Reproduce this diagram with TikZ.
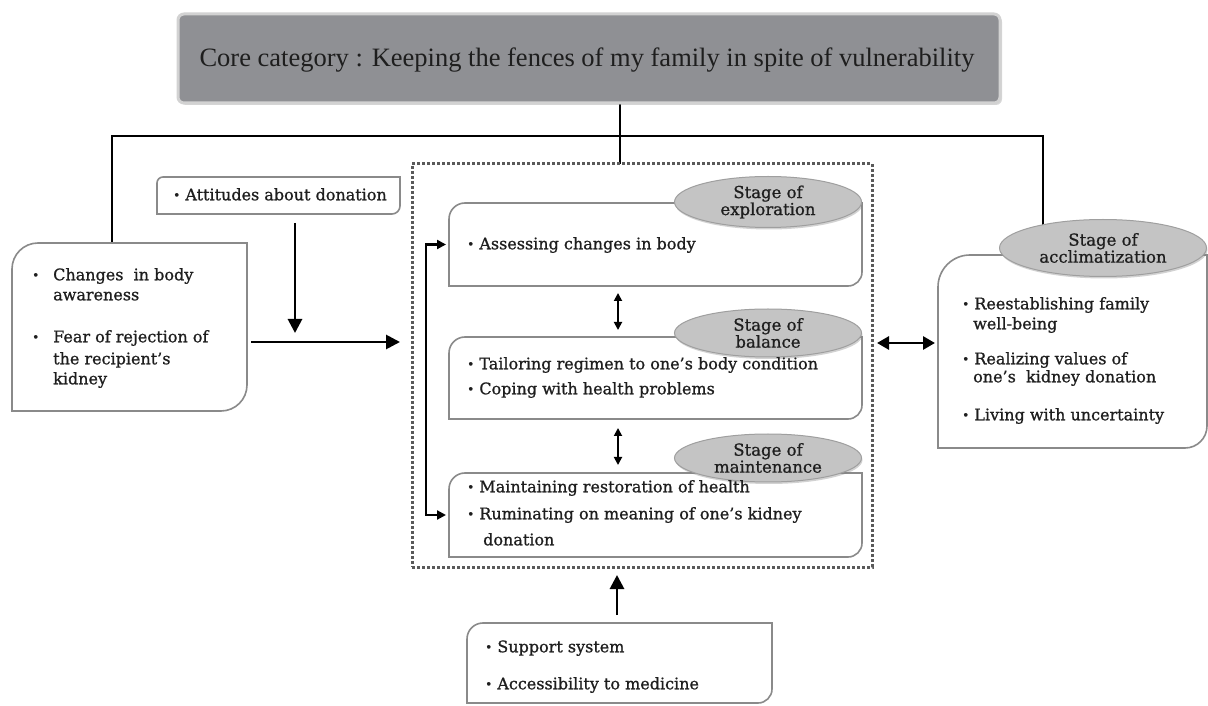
\documentclass[tikz,border=0pt]{standalone}
\usepackage{fontspec}
\setmainfont{Liberation Serif}
\newfontfamily\bodyfont[FakeBold=0.9]{DejaVu Serif}
\usetikzlibrary{arrows.meta,backgrounds,shadows,shapes.geometric,calc}
\definecolor{coregray}{HTML}{8F9094}
\definecolor{framegray}{HTML}{D2D2D2}
\definecolor{boxgray}{HTML}{8A8A8A}
\definecolor{ellfill}{HTML}{C4C4C4}
\definecolor{txt}{HTML}{1E1E1E}
\definecolor{dotgray}{HTML}{5A5A5A}
\newcommand\bul{\raisebox{1pt}{\fontsize{12}{12}\selectfont •}}
\newcommand\diagoutline[3]{%
  \draw[outline] ([yshift=-#2]#1.north west) arc[start angle=180,end angle=90,radius=#2]
    -- (#1.north east) -- ([yshift=#3]#1.south east) arc[start angle=0,end angle=-90,radius=#3]
    -- (#1.south west) -- cycle;}
\begin{document}
\begin{tikzpicture}[x=1pt,y=1pt,
  area/.style={rectangle,inner sep=0pt,outer sep=0pt},
  outline/.style={draw=boxgray,line width=1.6pt},
  ell/.style={ellipse,fill=ellfill,draw=gray!75,line width=1pt,inner sep=0pt,align=center,
    font=\bodyfont\fontsize{16.5}{17}\selectfont,text=txt,
    drop shadow={opacity=0.35,shadow xshift=1pt,shadow yshift=-2pt}},
  lbl/.style={anchor=mid west,inner sep=0pt,text=txt,font=\bodyfont\fontsize{16}{18}\selectfont},
  conn/.style={line width=2.4pt,draw=black},
  thickarr/.style={line width=2.8pt,-{Triangle[length=14pt,width=14pt]}},
  dblarr/.style={line width=1.8pt,{Triangle[length=8pt,width=8pt]}-{Triangle[length=8pt,width=8pt]}},
  bigdbl/.style={line width=2.8pt,{Triangle[length=12pt,width=13pt]}-{Triangle[length=12pt,width=13pt]}},
  brarr/.style={line width=2.2pt,{Triangle[length=9pt,width=9pt]}-{Triangle[length=9pt,width=9pt]}},
]
\useasboundingbox (0,0) rectangle (1208,705);

% core
\node[area,minimum width=822pt,minimum height=89pt,fill=coregray,draw=framegray,line width=3pt,
  rounded corners=6pt,drop shadow={opacity=0.3,shadow xshift=2pt,shadow yshift=-2pt}] (core) at (589,646.5) {};
\node[inner sep=0pt,text=txt,font=\fontsize{26.5}{28}\selectfont] (coretxt) at (587,645)
  {Core category : Keeping the fences of my family in spite of vulnerability};

% areas
\node[area,minimum width=235pt,minimum height=168pt] (lb) at (129.5,378) {};
\node[area,minimum width=243pt,minimum height=37pt] (att) at (278.5,509.5) {};
\node[area,minimum width=460pt,minimum height=403pt,draw=dotgray,line width=3pt,dash pattern=on 3pt off 2pt] (dot) at (642,339.5) {};
\node[area,minimum width=413pt,minimum height=83pt] (exp) at (655.5,460.5) {};
\node[area,minimum width=413pt,minimum height=82pt] (bal) at (655.5,327) {};
\node[area,minimum width=413pt,minimum height=84pt] (mnt) at (655.5,190) {};
\node[area,minimum width=269pt,minimum height=193pt] (acc) at (1072.5,353.5) {};
\node[area,minimum width=305pt,minimum height=80pt] (sup) at (619.5,42) {};

\diagoutline{lb}{26pt}{26pt}
\diagoutline{att}{6pt}{8pt}
\diagoutline{exp}{16pt}{14pt}
\diagoutline{bal}{16pt}{14pt}
\diagoutline{mnt}{16pt}{14pt}
\diagoutline{acc}{32pt}{22pt}
\diagoutline{sup}{16pt}{14pt}

% connectors behind
\coordinate (jm) at (620,569);
\coordinate (jl) at (112,569);
\coordinate (jr) at (1043,569);
\begin{pgfonlayer}{background}
\fill[white] (0,0) rectangle (1208,705);
\draw[conn] (core.south -| jm) -- (dot.north -| jm);
\draw[conn] (lb.north -| jl) -- (jl) -- (jr) -- (1043,470);
\end{pgfonlayer}

% ellipses
\node[ell,minimum width=187pt,minimum height=51pt] (eexp) at (768,503) {Stage of\\exploration};
\node[ell,minimum width=187pt,minimum height=48pt] (ebal) at (768,372) {Stage of\\balance};
\node[ell,minimum width=187pt,minimum height=48pt] (emnt) at (768,247) {Stage of\\maintenance};
\node[ell,minimum width=207pt,minimum height=57pt] (eacc) at (1103,457) {Stage of\\acclimatization};

% arrows
\coordinate (dn) at (295,372);
\coordinate (he) at (400,363);
\coordinate (cx) at (618,0);
\coordinate (ha) at (0,362);
\coordinate (bx) at (617,0);
\draw[thickarr] (att.south -| dn) ++(0,-9) -- (dn);
\draw[thickarr,shorten <=4pt] (lb.east |- he) -- (he);
\draw[dblarr,shorten <=7pt,shorten >=7pt] (exp.south -| cx) -- (bal.north -| cx);
\draw[dblarr,shorten <=9pt,shorten >=8pt] (bal.south -| cx) -- (mnt.north -| cx);
\draw[brarr,shorten <=3pt,shorten >=3pt] (exp.west) -- ++(-23,0) |- (mnt.west);
\draw[bigdbl,shorten <=5pt,shorten >=3pt] (dot.east |- ha) -- (acc.west |- ha);
\draw[thickarr,shorten <=8pt,shorten >=8pt] (sup.north -| bx) -- (dot.south -| bx);

% texts
\node[lbl] (a1) at (173,507) {\bul\ Attitudes about donation};
\node[lbl] (l0) at (32,427) {\bul};
\node[lbl] (l1) at (53,427) {Changes \ in body};
\node[lbl] (l2) at (53,407) {awareness};
\node[lbl] (l3) at (32,365) {\bul};
\node[lbl] (l4) at (53,365) {Fear of rejection of};
\node[lbl] (l5) at (53,343) {the recipient’s};
\node[lbl] (l6) at (53,323) {kidney};
\node[lbl] (e1) at (467,458) {\bul\ Assessing changes in body};
\node[lbl] (b1) at (467,338) {\bul\ Tailoring regimen to one’s body condition};
\node[lbl] (b2) at (467,313) {\bul\ Coping with health problems};
\node[lbl] (m1) at (467,215) {\bul\ Maintaining restoration of health};
\node[lbl] (m2) at (467,188) {\bul\ Ruminating on meaning of one’s kidney};
\node[lbl] (m3) at (483,162) {donation};
\node[lbl] (c1) at (962,398) {\bul\ Reestablishing family};
\node[lbl] (c2) at (973,378) {well-being};
\node[lbl] (c3) at (962,343) {\bul\ Realizing values of};
\node[lbl] (c4) at (973,325) {one’s \ kidney donation};
\node[lbl] (c5) at (962,287) {\bul\ Living with uncertainty};
\node[lbl] (s1) at (485,55) {\bul\ Support system};
\node[lbl] (s2) at (485,18) {\bul\ Accessibility to medicine};
\end{tikzpicture}
\end{document}
